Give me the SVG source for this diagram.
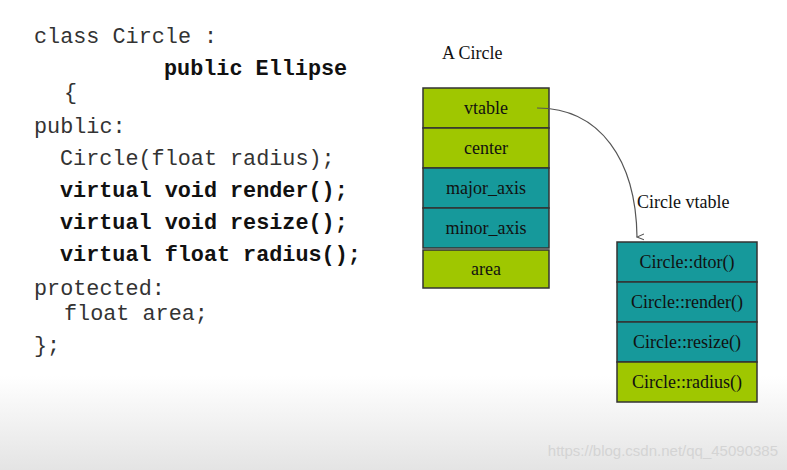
<svg xmlns="http://www.w3.org/2000/svg" width="787" height="470" viewBox="0 0 787 470">
<defs>
<linearGradient id="bg" x1="0" y1="0" x2="0" y2="1"><stop offset="0.8" stop-color="#ffffff"/><stop offset="1" stop-color="#e4e4e4"/></linearGradient>
<marker id="ah" markerWidth="8" markerHeight="8" refX="4" refY="7" orient="auto-start-reverse" markerUnits="userSpaceOnUse" viewBox="0 0 8 8"><path d="M1,0 L4,7 L7,0" fill="none" stroke="#555" stroke-width="1"/></marker>
<style>
.code{font-family:"Liberation Mono",monospace;font-size:21.8px;fill:#333}
.b{font-weight:bold;fill:#111}
.g{fill:#9fc700;stroke:#333;stroke-width:1.5}
.t{fill:#16999b;stroke:#333;stroke-width:1.5}
.l{font-family:"Liberation Serif",serif;font-size:18px;fill:#111;text-anchor:middle}
.c{font-family:"Liberation Serif",serif;font-size:18px;fill:#111}
</style>
</defs>
<rect width="787" height="470" fill="url(#bg)"/>
<g id="code">
<text class="code" x="34" y="43">class Circle :</text>
<text class="code b" x="164" y="75">public Ellipse</text>
<text class="code" x="64" y="99">{</text>
<text class="code" x="34" y="133">public:</text>
<text class="code" x="60" y="165">Circle(float radius);</text>
<text class="code b" x="60" y="197">virtual void render();</text>
<text class="code b" x="60" y="229">virtual void resize();</text>
<text class="code b" x="60" y="261">virtual float radius();</text>
<text class="code" x="34" y="295">protected:</text>
<text class="code" x="64" y="320">float area;</text>
<text class="code" x="34" y="352">};</text>
</g>
<text class="c" x="442" y="59">A Circle</text>
<g id="obj">
<rect class="g" x="423" y="88" width="126" height="40"/><text class="l" x="486" y="114">vtable</text>
<rect class="g" x="423" y="128" width="126" height="40"/><text class="l" x="486" y="154">center</text>
<rect class="t" x="423" y="168" width="126" height="40"/><text class="l" x="486" y="194">major_axis</text>
<rect class="t" x="423" y="208" width="126" height="40"/><text class="l" x="486" y="234">minor_axis</text>
<rect class="g" x="423" y="250" width="126" height="38"/><text class="l" x="486" y="275">area</text>
</g>
<text class="c" x="637" y="208">Circle vtable</text>
<g id="vtable">
<rect class="t" x="617" y="242" width="140" height="40"/><text class="l" x="687" y="268">Circle::dtor()</text>
<rect class="t" x="617" y="282" width="140" height="40"/><text class="l" x="687" y="308">Circle::render()</text>
<rect class="t" x="617" y="322" width="140" height="40"/><text class="l" x="687" y="348">Circle::resize()</text>
<rect class="g" x="617" y="362" width="140" height="40"/><text class="l" x="687" y="388">Circle::radius()</text>
</g>
<g id="connectors">
<path d="M537,108 C600,108 636,160 637,237" fill="none" stroke="#555" stroke-width="1.2" marker-end="url(#ah)"/>
</g>
<text x="778" y="456" font-family="Liberation Sans,sans-serif" font-size="15" fill="#d4d4d4" text-anchor="end">https://blog.csdn.net/qq_45090385</text>
</svg>
